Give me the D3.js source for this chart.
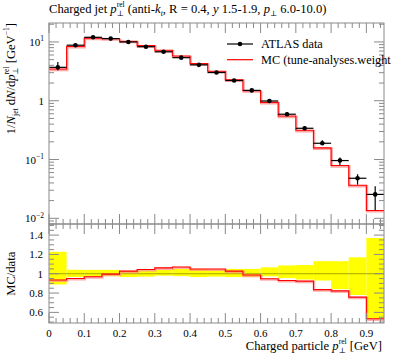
<!DOCTYPE html>
<html><head><meta charset="utf-8">
<script src="https://cdn.jsdelivr.net/npm/d3@7"></script>
<style>body{margin:0;background:#fff}svg{display:block}</style>
</head><body>
<script>
// ---- data ----
const binEdges = [0,0.05,0.1,0.15,0.2,0.25,0.3,0.35,0.4,0.45,0.5,0.55,0.6,0.65,0.7,0.75,0.8,0.85,0.9,0.95];
const dataVals = [3.7,8.8,12.0,11.4,10.0,8.3,6.8,5.4,4.08,3.02,2.21,1.50,0.99,0.59,0.34,0.189,0.096,0.048,0.0255];
const dataErrUp = [0.227,0.041,0.04,0.04,0.03,0.035,0.04,0.05,0.05,0.04,0.05,0.05,0.066,0.086,0.09,0.13,0.13,0.17,0.37];   // relative
const dataErrDn = [0.111,0.034,0.03,0.025,0.034,0.03,0.02,0.025,0.034,0.03,0.034,0.034,0.027,0.045,0.06,0.07,0.16,0.22,0.47]; // relative
const mcVals = [3.46,8.37,11.63,11.35,10.27,8.67,7.21,5.78,4.28,3.17,2.27,1.48,0.939,0.549,0.314,0.158,0.079,0.0364,0.0136];
const xTickLabels = ["0","0.1","0.2","0.3","0.4","0.5","0.6","0.7","0.8","0.9"];
const ratioTickLabels = ["0.6","0.8","1","1.2","1.4"];
const logMajors = [0.01,0.1,1,10];

const W=397,H=358;
const L=49,R=384,mTop=23,mBot=224,rTop=224,rBot=323;
const FONT="'Liberation Serif', 'DejaVu Serif', serif";
const svg=d3.select("body").append("svg").attr("width",W).attr("height",H)
  .style("font-family",FONT);

const x=d3.scaleLinear().domain([0,0.95]).range([L,R]);
const y=d3.scaleLog().domain([0.0080,21.0]).range([mBot,mTop]);
const yr=d3.scaleLinear().domain([0.49,1.515]).range([rBot,rTop]);

const bins=dataVals.map((v,i)=>({x0:binEdges[i],x1:binEdges[i+1],xc:(binEdges[i]+binEdges[i+1])/2,
  d:v,up:dataErrUp[i],dn:dataErrDn[i],mc:mcVals[i]}));

// clip paths
const defs=svg.append("defs");
defs.append("clipPath").attr("id","cm").append("rect").attr("x",L).attr("y",mTop).attr("width",R-L).attr("height",mBot-mTop);
defs.append("clipPath").attr("id","cr").append("rect").attr("x",L).attr("y",rTop).attr("width",R-L).attr("height",rBot-rTop);

// rich text helper: one <text>, tspans positioned absolutely
function rich(parent, runs, opt){
  const g=parent.append("g");
  const t=g.append("text").attr("fill","#000").style("white-space","pre").attr("font-size",opt.size);
  let cur=0, prevStart=0, prevEnd=0;
  const spans=[];
  runs.forEach(r=>{
    const size=r.size||opt.size;
    const start=r.stack?prevStart:cur;
    const s=t.append("tspan").attr("x",start).attr("y",r.dy||0)
      .attr("font-size",size).attr("font-style",r.it?"italic":"normal").text(r.t);
    spans.push([s,start]);
    const w=s.node().getComputedTextLength();
    if(r.stack){cur=Math.max(prevEnd,start+w);}
    else{prevStart=start;prevEnd=start+w;cur=start+w;}
  });
  const total=cur;
  let off=0;
  if(opt.anchor==="end")off=-total; else if(opt.anchor==="middle")off=-total/2;
  spans.forEach(([s,st])=>s.attr("x",st+off));
  g.attr("transform",`translate(${opt.x},${opt.y})`+(opt.rot?` rotate(${opt.rot})`:""));
  return g;
}
const SUP=-5.6,SUB=3.3,SS=7.6;

// ---- main panel ----
const gm=svg.append("g").attr("clip-path","url(#cm)");
const stepLine=(acc,ys)=>{
  let p="";
  bins.forEach((b,i)=>{
    const yy=ys(acc(b));
    p+=(i===0?`M${x(b.x0)},${yy}`:`L${x(b.x0)},${yy}`)+`L${x(b.x1)},${yy}`;
  });
  return p;
};
gm.append("path").attr("d",stepLine(b=>b.mc,y)).attr("fill","none")
  .attr("stroke","#ff8c8c").attr("stroke-width",2.4).attr("stroke-opacity",0.8).attr("transform","translate(0.6,0.9)");
gm.append("path").attr("d",stepLine(b=>b.mc,y)).attr("fill","none")
  .attr("stroke","#ff0000").attr("stroke-width",1.1);

const gd=gm.append("g");
bins.forEach(b=>{
  gd.append("line").attr("x1",x(b.x0)).attr("x2",x(b.x1)).attr("y1",y(b.d)).attr("y2",y(b.d))
    .attr("stroke","#000").attr("stroke-width",1.2);
  gd.append("line").attr("x1",x(b.xc)).attr("x2",x(b.xc)).attr("y1",y(b.d*(1+b.up))).attr("y2",y(b.d*(1-b.dn)))
    .attr("stroke","#000").attr("stroke-width",1.2);
  gd.append("circle").attr("cx",x(b.xc)).attr("cy",y(b.d)).attr("r",2.3).attr("fill","#000");
});

// ---- ratio panel ----
const gr=svg.append("g").attr("clip-path","url(#cr)");
bins.forEach(b=>{
  gr.append("rect").attr("x",x(b.x0)).attr("width",x(b.x1)-x(b.x0))
    .attr("y",yr(1+b.up)).attr("height",yr(1-b.dn)-yr(1+b.up)).attr("fill","#ffff00");
});
gr.append("line").attr("x1",L).attr("x2",R).attr("y1",yr(1)).attr("y2",yr(1))
  .attr("stroke","#000").attr("stroke-opacity",0.35).attr("stroke-width",1);
gr.append("path").attr("d",stepLine(b=>b.mc/b.d,yr)).attr("fill","none")
  .attr("stroke","#ff8c8c").attr("stroke-width",2.4).attr("stroke-opacity",0.7).attr("transform","translate(0.6,0.9)");
gr.append("path").attr("d",stepLine(b=>b.mc/b.d,yr)).attr("fill","none")
  .attr("stroke","#ff0000").attr("stroke-width",1.1);

// ---- frames & ticks ----
const AX="#8a8a8a";
const ga=svg.append("g").attr("stroke",AX).attr("stroke-width",1).attr("fill","none");
ga.append("rect").attr("x",L).attr("y",mTop).attr("width",R-L).attr("height",mBot-mTop);
ga.append("rect").attr("x",L).attr("y",rTop).attr("width",R-L).attr("height",rBot-rTop);
const MAJ=10,MIN=5;
function vt(xx,y0,len){ga.append("line").attr("x1",xx).attr("x2",xx).attr("y1",y0).attr("y2",y0+len);}
function ht(yy,x0,len){ga.append("line").attr("x1",x0).attr("x2",x0+len).attr("y1",yy).attr("y2",yy);}
// x ticks
d3.range(0,96,2).forEach(k=>{
  const v=k/100; if(v>0.95+1e-9)return;
  const major=(k%10===0);
  const len=major?MAJ:MIN, xx=x(v);
  vt(xx,mTop,len); vt(xx,mBot,-len); vt(xx,rTop,len); vt(xx,rBot,-len);
});
// main y log ticks
[0.001,0.01,0.1,1,10].forEach(dec=>{
  for(let m=1;m<=9;m++){
    const v=dec*m; if(v<y.domain()[0]||v>y.domain()[1])continue;
    const len=m===1?MAJ:MIN, yy=y(v);
    ht(yy,L,len); ht(yy,R,-len);
  }
});
// ratio ticks
d3.range(50,151,5).forEach(k=>{
  const v=k/100; if(v<yr.domain()[0]||v>yr.domain()[1])return;
  const major=(k%20===0)&&k>=60&&k<=140;
  const len=major?MAJ:MIN, yy=yr(v);
  ht(yy,L,len); ht(yy,R,-len);
});

// ---- tick labels ----
const TS=11;
logMajors.forEach(v=>{
  const e=Math.round(Math.log10(v));
  const runs = e===0?[{t:"1"}]:[{t:"10"},{t:(e<0?"−":"")+Math.abs(e),size:7.5,dy:-4.5}];
  rich(svg,runs,{x:L-5,y:y(v)+4,anchor:"end",size:TS});
});
ratioTickLabels.forEach(s=>{
  svg.append("text").attr("x",L-6).attr("y",yr(+s)+4).attr("text-anchor","end").attr("font-size",TS).text(s);
});
xTickLabels.forEach(s=>{
  svg.append("text").attr("x",x(+s)).attr("y",337).attr("text-anchor","middle").attr("font-size",TS).text(s);
});

// ---- titles / labels ----
const FS=12.6;
rich(svg,[{t:"Charged jet "},{t:"p",it:1},{t:"rel",size:SS,dy:SUP},{t:"⊥",size:SS,dy:SUB,stack:1},
  {t:" (anti-"},{t:"k",it:1},{t:"t",it:1,size:SS,dy:SUB},{t:", R = 0.4, "},{t:"y",it:1},{t:" 1.5-1.9, "},
  {t:"p",it:1},{t:"⊥",size:SS,dy:SUB},{t:" 6.0-10.0)"}],{x:L,y:13,size:FS});

rich(svg,[{t:"1/"},{t:"N",it:1},{t:"jet",size:SS,dy:SUB},{t:" d"},{t:"N",it:1},{t:"/d"},{t:"p",it:1},
  {t:"rel",size:SS,dy:SUP},{t:"⊥",size:SS,dy:SUB,stack:1},{t:" [GeV"},{t:"−1",size:SS,dy:SUP},{t:"]"}],
  {x:15,y:mTop,rot:-90,anchor:"end",size:FS});

rich(svg,[{t:"MC/data"}],{x:15,y:yr(1),rot:-90,anchor:"middle",size:FS});

rich(svg,[{t:"Charged particle "},{t:"p",it:1},{t:"rel",size:SS,dy:SUP},{t:"⊥",size:SS,dy:SUB,stack:1},{t:" [GeV]"}],
  {x:382,y:350,anchor:"end",size:FS});

// ---- legend ----
const LS=12.3;
const lg=svg.append("g");
lg.append("line").attr("x1",227).attr("x2",253).attr("y1",44).attr("y2",44).attr("stroke","#000").attr("stroke-width",1.2);
lg.append("circle").attr("cx",240).attr("cy",44).attr("r",2.3).attr("fill","#000");
lg.append("text").attr("x",261).attr("y",48).attr("font-size",LS).text("ATLAS data");
lg.append("line").attr("x1",227).attr("x2",253).attr("y1",59.7).attr("y2",59.7).attr("stroke","#ff0000").attr("stroke-width",1.2);
lg.append("text").attr("x",261).attr("y",63.5).attr("font-size",LS).text("MC (tune-analyses.weight");
</script>
</body></html>
